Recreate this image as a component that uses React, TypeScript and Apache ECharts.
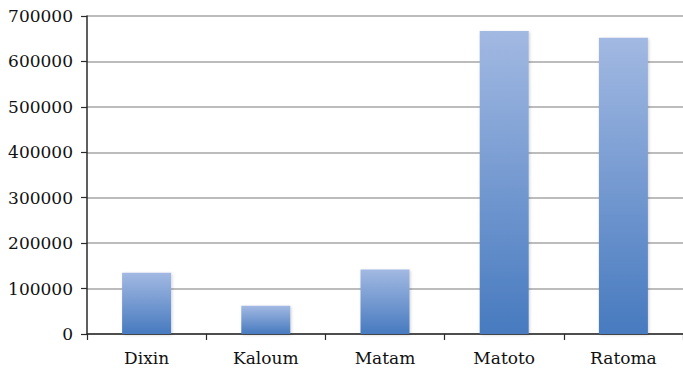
import React, { useEffect, useRef } from "react";
import * as echarts from "echarts";

const categories = ["Dixin", "Kaloum", "Matam", "Matoto", "Ratoma"];
const populations = [135000, 62000, 142000, 667000, 652000];

const yMin = 0;
const yMax = 700000;
const yStep = 100000;

export default function App() {
  const ref = useRef<HTMLDivElement>(null);

  useEffect(() => {
    document.body.style.margin = "0";
    document.body.style.overflow = "hidden";
    const chart = echarts.init(ref.current!, null, { renderer: "svg" });
    const font = "DejaVu Serif";
    chart.setOption({
      animation: false,
      backgroundColor: "#ffffff",
      grid: { left: 87, right: -4, top: 16, bottom: 38, containLabel: false },
      xAxis: {
        type: "category",
        data: categories,
        axisLine: { lineStyle: { color: "#2a2a2a", width: 1.5 } },
        axisTick: { show: true, alignWithLabel: false, length: 6, lineStyle: { color: "#2a2a2a", width: 1.2 } },
        axisLabel: { color: "#111111", fontFamily: font, fontSize: 17, margin: 15 },
        splitLine: { show: false },
      },
      yAxis: {
        type: "value",
        min: yMin,
        max: yMax,
        interval: yStep,
        axisLine: { show: true, lineStyle: { color: "#2a2a2a", width: 1.5 } },
        axisTick: { show: true, length: 6, lineStyle: { color: "#2a2a2a", width: 1.2 } },
        axisLabel: {
          color: "#111111",
          fontFamily: font,
          fontSize: 17,
          margin: 14,
          formatter: (v: number) => String(v),
        },
        splitLine: { show: true, lineStyle: { color: "#a6a6a6", width: 1.6 } },
      },
      series: [
        {
          type: "bar",
          data: populations,
          barWidth: 49,
          itemStyle: {
            color: new echarts.graphic.LinearGradient(0, 0, 0, 1, [
              { offset: 0, color: "#a2b9e2" },
              { offset: 1, color: "#477abf" },
            ]),
            shadowColor: "rgba(0,0,0,0.18)",
            shadowBlur: 3,
            shadowOffsetX: 1,
            shadowOffsetY: 1,
          },
        },
      ],
    });
    return () => chart.dispose();
  }, []);

  return <div ref={ref} style={{ width: 683, height: 372 }} />;
}
